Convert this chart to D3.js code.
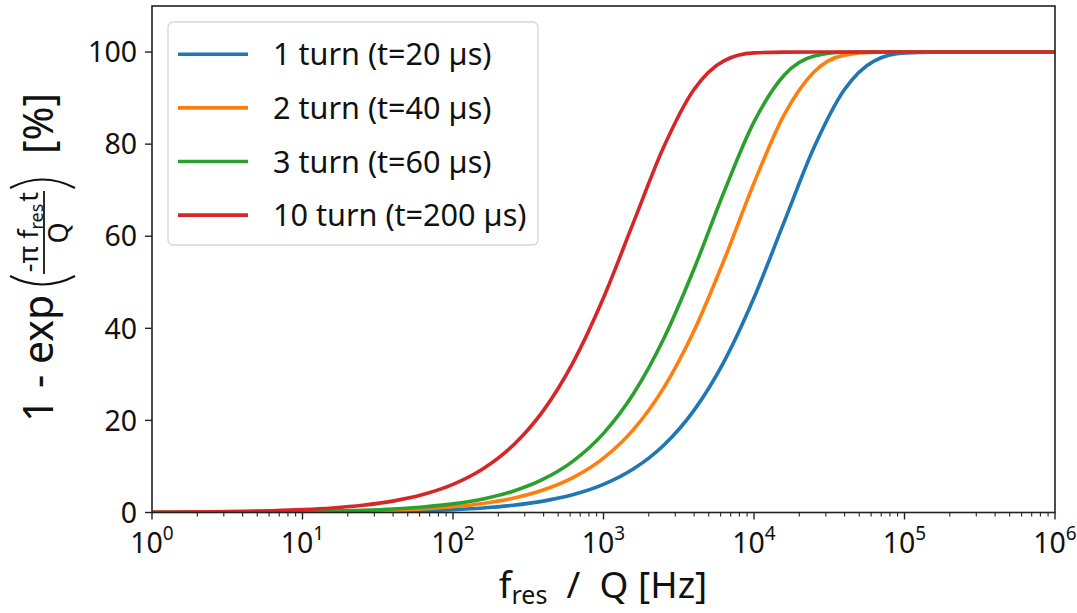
<!DOCTYPE html>
<html>
<head>
<meta charset="utf-8">
<style>
  body { margin: 0; background: #fff; }
  svg { font-family: "Noto Sans", "DejaVu Sans", sans-serif; }
</style>
</head>
<body>
<svg width="1077" height="613"></svg>
<script src="https://d3js.org/d3.v7.min.js"></script>
<script>
// f_res / Q sample points [Hz]
const freqs = [1, 1.585, 2.512, 3.981, 6.31, 10, 15.85, 25.12, 39.81, 63.1,
  100, 158.5, 251.2, 398.1, 631, 1000, 1585, 2512, 3981, 6310,
  10000, 15849, 25119, 39811, 63096, 100000, 158489, 251189, 398107, 630957, 1000000];

// 1 - exp(...) in percent
const turn1 = [0.006, 0.010, 0.016, 0.025, 0.040, 0.063, 0.100, 0.158, 0.250, 0.396,
  0.626, 0.991, 1.566, 2.470, 3.887, 6.090, 9.479, 14.60, 22.13, 32.73,
  46.65, 63.06, 79.36, 91.80, 98.10, 99.81, 99.99, 100, 100, 100, 100];
const turn2 = [0.013, 0.020, 0.032, 0.050, 0.079, 0.126, 0.199, 0.315, 0.499, 0.790,
  1.249, 1.972, 3.107, 4.880, 7.623, 11.81, 18.06, 27.07, 39.36, 54.74,
  71.54, 86.35, 95.74, 99.33, 99.96, 100, 100, 100, 100, 100, 100];
const turn3 = [0.019, 0.030, 0.047, 0.075, 0.119, 0.188, 0.298, 0.472, 0.748, 1.182,
  1.867, 2.943, 4.625, 7.229, 11.21, 17.18, 25.83, 37.72, 52.78, 69.56,
  84.82, 94.96, 99.12, 99.94, 100, 100, 100, 100, 100, 100, 100];
const turn10 = [0.063, 0.100, 0.158, 0.250, 0.396, 0.626, 0.991, 1.566, 2.470, 3.887,
  6.090, 9.479, 14.60, 22.13, 32.73, 46.65, 63.06, 79.36, 91.80, 98.10,
  99.81, 99.99, 100, 100, 100, 100, 100, 100, 100, 100, 100];

const seriesNames = ["1 turn (t=20 µs)", "2 turn (t=40 µs)", "3 turn (t=60 µs)", "10 turn (t=200 µs)"];
const seriesValues = [turn1, turn2, turn3, turn10];
const colors = ["#1f77b4", "#ff7f0e", "#2ca02c", "#d62728"];

const yTicks = [0, 20, 40, 60, 80, 100];
const xTickExps = [0, 1, 2, 3, 4, 5, 6];

const plotL = 152, plotR = 1055, plotT = 6, plotB = 512.5;

const svg = d3.select("svg");

const x = d3.scaleLog().domain([1, 1e6]).range([plotL, plotR]);
const y = d3.scaleLinear().domain([0, 110]).range([plotB, plotT]);

svg.append("clipPath").attr("id", "clip")
  .append("rect").attr("x", plotL).attr("y", plotT)
  .attr("width", plotR - plotL).attr("height", plotB - plotT);

const line = d3.line()
  .x((d, i) => x(freqs[i]))
  .y(d => y(d))
  .curve(d3.curveMonotoneX);

svg.append("g").attr("clip-path", "url(#clip)")
  .selectAll("path")
  .data(seriesValues)
  .enter()
  .append("path")
  .attr("d", line)
  .attr("fill", "none")
  .attr("stroke", (d, i) => colors[i])
  .attr("stroke-width", 3.6);

// frame
svg.append("rect")
  .attr("x", plotL).attr("y", plotT)
  .attr("width", plotR - plotL).attr("height", plotB - plotT)
  .attr("fill", "none").attr("stroke", "#222").attr("stroke-width", 1.6);

// y ticks
const yg = svg.append("g").selectAll("g").data(yTicks).enter().append("g")
  .attr("transform", d => "translate(0," + y(d) + ")");
yg.append("line").attr("x1", plotL - 7).attr("x2", plotL)
  .attr("stroke", "#222").attr("stroke-width", 1.4);
yg.append("text").attr("x", 137).attr("dy", "0.36em")
  .attr("text-anchor", "end").attr("font-size", 28.5).attr("fill", "#111")
  .text(d => d);

// x ticks: majors and minors
const minors = [];
for (let e = 0; e < 6; e++) {
  for (let m = 2; m < 10; m++) minors.push(m * Math.pow(10, e));
}
svg.append("g").selectAll("line").data(minors).enter().append("line")
  .attr("x1", d => x(d)).attr("x2", d => x(d))
  .attr("y1", plotB).attr("y2", plotB + 4)
  .attr("stroke", "#222").attr("stroke-width", 1.1);

const xg = svg.append("g").selectAll("g").data(xTickExps).enter().append("g")
  .attr("transform", d => "translate(" + x(Math.pow(10, d)) + ",0)");
xg.append("line").attr("y1", plotB).attr("y2", plotB + 7)
  .attr("stroke", "#222").attr("stroke-width", 1.4);
const xt = xg.append("text").attr("y", 553).attr("text-anchor", "middle")
  .attr("font-size", 28.5).attr("fill", "#111");
xt.append("tspan").text("10");
xt.append("tspan").attr("font-size", 19).attr("dy", -13).text(d => d);

// x axis label
const xl = svg.append("text").attr("x", 603).attr("y", 598)
  .attr("text-anchor", "middle").attr("font-size", 37).attr("fill", "#111")
  .attr("xml:space", "preserve");
xl.append("tspan").text("f");
xl.append("tspan").attr("font-size", 25).attr("dy", 6).text("res");
xl.append("tspan").attr("dy", -6).text("  /  Q [Hz]");

// y axis label (rotated, built from pieces)
const yl = svg.append("g").attr("transform", "translate(53,422) rotate(-90)")
  .attr("fill", "#111");
yl.append("text").attr("x", 0).attr("y", 0).attr("font-size", 41).text("1 - exp");
yl.append("path").attr("d", "M146,-43 Q129,-10.5 146,22")
  .attr("fill", "none").attr("stroke", "#111").attr("stroke-width", 2.2);
yl.append("path").attr("d", "M234,-43 Q251,-10.5 234,22")
  .attr("fill", "none").attr("stroke", "#111").attr("stroke-width", 2.2);
const num = yl.append("text").attr("x", 190).attr("y", -15)
  .attr("text-anchor", "middle").attr("font-size", 27);
num.append("tspan").text("-π f");
num.append("tspan").attr("font-size", 18).attr("dy", 5).text("res");
num.append("tspan").attr("dy", -5).attr("dx", 2).text("t");
yl.append("line").attr("x1", 148).attr("x2", 231).attr("y1", -9).attr("y2", -9)
  .attr("stroke", "#111").attr("stroke-width", 1.8);
yl.append("text").attr("x", 189).attr("y", 15).attr("text-anchor", "middle")
  .attr("font-size", 27).text("Q");
yl.append("text").attr("x", 268).attr("y", 0).attr("font-size", 41).text("[%]");

// legend
const legend = svg.append("g");
legend.append("rect")
  .attr("x", 168).attr("y", 22).attr("width", 370).attr("height", 223)
  .attr("rx", 5).attr("fill", "#fff").attr("fill-opacity", 0.8)
  .attr("stroke", "#d6d6d6").attr("stroke-width", 1.3);
const li = legend.selectAll("g.item").data(seriesNames).enter().append("g")
  .attr("class", "item")
  .attr("transform", (d, i) => "translate(0," + (54.3 + i * 53.6) + ")");
li.append("line").attr("x1", 178).attr("x2", 248)
  .attr("stroke", (d, i) => colors[i]).attr("stroke-width", 3.6);
li.append("text").attr("x", 273).attr("dy", "0.36em")
  .attr("font-size", 30.6).attr("fill", "#111").text(d => d);
</script>
</body>
</html>
